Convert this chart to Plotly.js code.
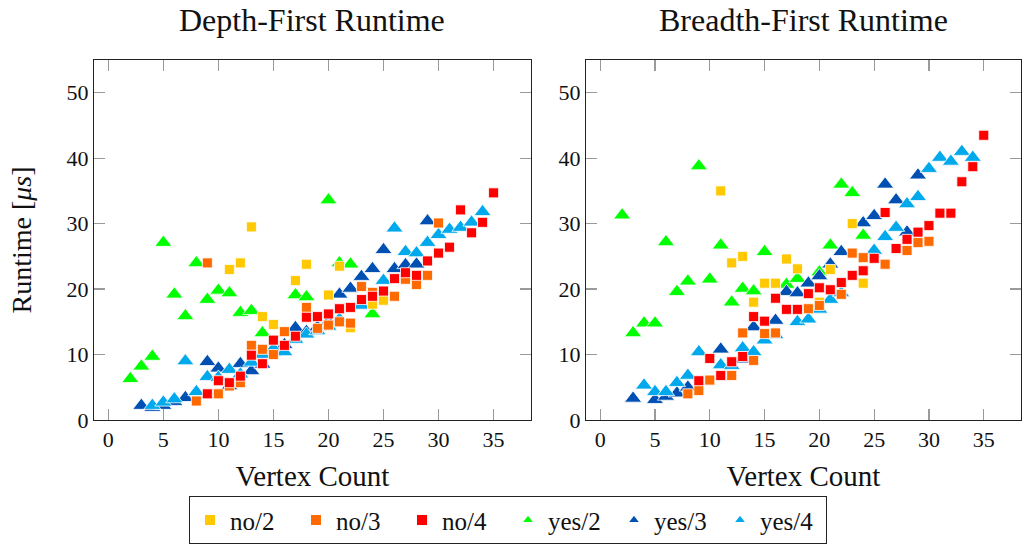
<!DOCTYPE html>
<html>
<head>
<meta charset="utf-8">
<script src="https://cdn.plot.ly/plotly-3.0.1.min.js"></script>
<style>html,body{margin:0;padding:0;background:#fff;}#chart{width:1024px;height:545px;}</style>
</head>
<body>
<div id="chart"></div>
<script>
// ---------- Depth-First data ----------
const dfNo2X = [11, 12, 13, 14, 15, 17, 18, 20, 21, 22, 24, 25];
const dfNo2Y = [23.0, 24.0, 29.5, 15.8, 14.6, 21.3, 23.8, 19.1, 23.5, 14.1, 17.7, 18.3];
const dfNo3X = [8, 9, 10, 11, 12, 13, 14, 15, 16, 18, 19, 20, 21, 22, 23, 24, 26, 27, 28, 29, 30];
const dfNo3Y = [2.9, 24.0, 4.0, 5.2, 5.7, 11.4, 10.8, 10.0, 13.5, 17.2, 14.0, 14.5, 15.0, 14.8, 20.4, 19.5, 18.9, 21.5, 20.7, 22.1, 30.1];
const dfNo4X = [9, 10, 11, 12, 13, 14, 15, 16, 17, 18, 19, 20, 21, 22, 23, 24, 25, 26, 27, 28, 29, 30, 31, 32, 33, 34, 35];
const dfNo4Y = [4.0, 6.0, 5.7, 6.7, 9.9, 8.6, 12.2, 11.4, 12.8, 15.7, 15.8, 16.2, 17.0, 17.2, 18.4, 18.9, 19.7, 21.6, 22.5, 22.1, 24.3, 25.5, 26.4, 32.1, 28.6, 30.2, 34.7];
const dfYes2X = [2, 3, 4, 5, 6, 7, 8, 9, 10, 11, 12, 13, 14, 17, 18, 20, 21, 22, 24];
const dfYes2Y = [6.3, 8.2, 9.7, 27.1, 19.2, 15.9, 24.0, 18.4, 19.8, 19.4, 16.4, 16.7, 13.3, 19.1, 18.8, 33.6, 24.0, 23.8, 16.2];
const dfYes3X = [3, 4, 5, 6, 7, 9, 10, 11, 12, 13, 14, 15, 16, 17, 18, 19, 20, 21, 22, 23, 24, 25, 26, 27, 28, 29];
const dfYes3Y = [2.2, 1.9, 2.2, 2.8, 3.4, 8.9, 7.9, 5.2, 8.6, 7.5, 8.5, 10.3, 11.5, 14.1, 13.5, 14.2, 15.0, 19.2, 20.1, 21.9, 23.1, 26.0, 23.1, 23.7, 23.8, 30.4];
const dfYes4X = [4, 5, 6, 7, 8, 9, 10, 11, 12, 13, 14, 15, 16, 17, 18, 19, 20, 21, 23, 25, 26, 27, 28, 29, 30, 31, 32, 33, 34];
const dfYes4Y = [2.2, 2.7, 3.2, 9.0, 4.3, 6.6, 6.5, 7.7, 7.0, 8.8, 10.0, 10.9, 10.4, 12.3, 13.1, 13.6, 14.3, 15.4, 17.5, 21.3, 29.3, 25.7, 25.5, 27.1, 28.3, 29.1, 29.4, 30.2, 31.8];

// ---------- Breadth-First data ----------
const bfNo2X = [11, 12, 13, 14, 15, 16, 17, 18, 20, 21, 23, 24];
const bfNo2Y = [35.0, 24.0, 25.0, 18.0, 20.9, 20.9, 24.6, 23.1, 18.0, 23.0, 30.0, 20.9];
const bfNo3X = [8, 9, 10, 12, 13, 14, 15, 16, 19, 20, 22, 23, 24, 26, 28, 29, 30];
const bfNo3Y = [4.0, 4.5, 6.1, 6.8, 13.3, 9.1, 13.2, 13.3, 17.0, 17.5, 19.2, 25.5, 24.8, 23.8, 25.9, 27.1, 27.3];
const bfNo4X = [9, 10, 11, 12, 13, 14, 15, 16, 17, 18, 19, 20, 21, 22, 23, 24, 25, 26, 27, 28, 29, 30, 31, 32, 33, 34, 35];
const bfNo4Y = [6.0, 9.4, 6.8, 8.9, 9.7, 15.8, 15.1, 18.6, 16.9, 16.9, 19.3, 20.2, 19.9, 21.0, 22.1, 22.8, 24.7, 31.7, 26.2, 27.6, 28.7, 29.7, 31.6, 31.6, 36.4, 38.7, 43.5];
const bfYes2X = [2, 3, 4, 5, 6, 7, 8, 9, 10, 11, 12, 13, 14, 15, 17, 18, 20, 21, 22, 23, 24];
const bfYes2Y = [31.3, 13.3, 14.8, 14.8, 27.2, 19.6, 21.2, 38.8, 21.5, 26.7, 18.0, 20.1, 19.7, 25.7, 20.7, 21.6, 22.6, 26.7, 36.0, 34.7, 28.2];
const bfYes3X = [3, 5, 6, 7, 8, 11, 13, 14, 16, 17, 18, 19, 20, 21, 22, 24, 25, 26, 27, 28, 29];
const bfYes3Y = [3.3, 3.1, 3.6, 4.1, 5.0, 10.8, 9.3, 14.2, 15.2, 19.6, 19.4, 20.9, 22.0, 23.8, 25.7, 30.1, 31.2, 36.0, 33.6, 28.7, 37.4];
const bfYes4X = [4, 5, 6, 7, 8, 9, 11, 12, 13, 14, 15, 16, 18, 19, 20, 21, 22, 25, 26, 27, 28, 29, 30, 31, 32, 33, 34];
const bfYes4Y = [5.3, 4.3, 4.3, 5.7, 6.8, 10.4, 8.4, 8.3, 11.0, 10.4, 12.2, 13.0, 15.0, 15.4, 16.9, 18.4, 19.4, 25.9, 28.0, 29.4, 33.0, 34.1, 38.4, 40.1, 39.5, 41.0, 40.1];

// ---------- labels ----------
const seriesNames = ["no/2", "no/3", "no/4", "yes/2", "yes/3", "yes/4"];
const plotTitles = ["Depth-First Runtime", "Breadth-First Runtime"];
const xTickVals = [0, 5, 10, 15, 20, 25, 30, 35];
const yTickVals = [0, 10, 20, 30, 40, 50];

const colors = {"no/2": "#FFC800", "no/3": "#FF6A00", "no/4": "#FF0000", "yes/2": "#00FF00", "yes/3": "#0050B4", "yes/4": "#00A8EC"};
const FONT = "'Liberation Serif', 'Times New Roman', serif";

const dfSeries = {"no/2": [dfNo2X, dfNo2Y], "no/3": [dfNo3X, dfNo3Y], "no/4": [dfNo4X, dfNo4Y], "yes/2": [dfYes2X, dfYes2Y], "yes/3": [dfYes3X, dfYes3Y], "yes/4": [dfYes4X, dfYes4Y]};
const bfSeries = {"no/2": [bfNo2X, bfNo2Y], "no/3": [bfNo3X, bfNo3Y], "no/4": [bfNo4X, bfNo4Y], "yes/2": [bfYes2X, bfYes2Y], "yes/3": [bfYes3X, bfYes3Y], "yes/4": [bfYes4X, bfYes4Y]};

const drawOrder = ["yes/2", "yes/3", "yes/4", "no/2", "no/3", "no/4"];
const traces = [];
[[dfSeries, "x", "y", true], [bfSeries, "x2", "y2", false]].forEach(([ser, xa, ya, showLeg]) => {
  drawOrder.forEach(name => {
    const isTri = name.startsWith("yes");
    traces.push({
      type: "scatter", mode: "markers", name: name,
      x: ser[name][0], y: ser[name][1], xaxis: xa, yaxis: ya,
      showlegend: showLeg, legendgroup: name, legendrank: seriesNames.indexOf(name) + 1,
      marker: {symbol: isTri ? "triangle-up" : "square", size: isTri ? 15 : 10, color: colors[name], line: {color: "#ffffff", width: 0.8}},
      hoverinfo: "skip"
    });
  });
});

const axisCommon = {
  showline: true, linecolor: "#222", linewidth: 1, mirror: "ticks",
  ticks: "inside", ticklen: 11, tickwidth: 1.2, tickcolor: "#9a9a9a",
  showgrid: false, zeroline: false,
  tickfont: {family: FONT, size: 22, color: "#111"}
};
const xCommon = Object.assign({}, axisCommon, {range: [-1.3, 38.4], tickvals: xTickVals, ticktext: xTickVals.map(String),
  title: {text: "Vertex Count", font: {family: FONT, size: 29, color: "#111"}, standoff: 14}});
const yCommon = Object.assign({}, axisCommon, {range: [0, 55], tickvals: yTickVals, ticktext: yTickVals.map(String)});

const layout = {
  width: 1024, height: 545,
  paper_bgcolor: "#fff", plot_bgcolor: "#fff",
  margin: {l: 94, r: 3, t: 60, b: 125, autoexpand: false},
  showlegend: true,
  xaxis: Object.assign({}, xCommon, {domain: [0, 0.4714], anchor: "y"}),
  xaxis2: Object.assign({}, xCommon, {domain: [0.5307, 1], anchor: "y2"}),
  yaxis: Object.assign({}, yCommon, {anchor: "x", title: {text: "Runtime [<i>μs</i>]", font: {family: FONT, size: 28, color: "#111"}, standoff: 26}}),
  yaxis2: Object.assign({}, yCommon, {anchor: "x2"}),
  annotations: [
    {text: plotTitles[0], xref: "x domain", yref: "paper", x: 0.5, y: 1, yshift: 40, xanchor: "center", yanchor: "middle", showarrow: false, font: {family: FONT, size: 32, color: "#111"}},
    {text: plotTitles[1], xref: "x2 domain", yref: "paper", x: 0.5, y: 1, yshift: 40, xanchor: "center", yanchor: "middle", showarrow: false, font: {family: FONT, size: 32, color: "#111"}}
  ],
  legend: {orientation: "h", x: 0.4466, xanchor: "center", y: -0.212, yanchor: "top",
    bordercolor: "#222", borderwidth: 1, bgcolor: "#fff",
    font: {family: FONT, size: 25, color: "#111"}, itemsizing: "constant", itemwidth: 30,
    entrywidth: 61, entrywidthmode: "pixels",
    traceorder: "normal"}
};

Plotly.newPlot("chart", traces, layout, {staticPlot: true, displayModeBar: false});
</script>
</body>
</html>
